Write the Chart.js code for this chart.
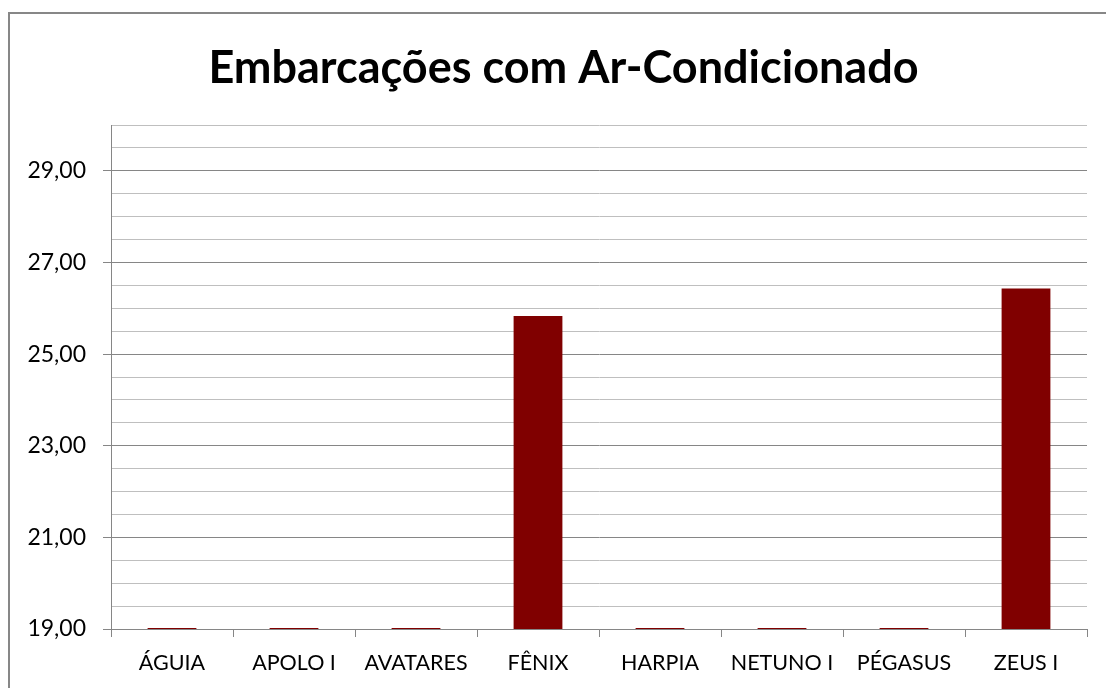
<!DOCTYPE html>
<html>
<head>
<meta charset="utf-8">
<script src="https://cdn.jsdelivr.net/npm/chart.js@4.4.0/dist/chart.umd.min.js"></script>
<style>
  html, body { margin: 0; padding: 0; background: #fff; overflow: hidden; }
  #frame { position: absolute; left: 8px; top: 12px; width: 1110px; height: 700px; border: 2px solid #878787; box-sizing: border-box; }
  #wrap { position: absolute; left: 0; top: 0; width: 1106px; height: 688px; }
</style>
</head>
<body>
<div id="frame"></div>
<div id="wrap"><canvas id="c" width="1106" height="688"></canvas></div>
<script>
const chartTitle = 'Embarcações com Ar-Condicionado';
const categories = ['ÁGUIA', 'APOLO I', 'AVATARES', 'FÊNIX', 'HARPIA', 'NETUNO I', 'PÉGASUS', 'ZEUS I'];
const values = [19.02, 19.02, 19.02, 25.83, 19.02, 19.02, 19.02, 26.43];
const yMin = 19, yMax = 30, yStep = 0.5, yLabelStep = 2;

const FONT = "Lato, 'Liberation Sans', sans-serif";
const isMajor = v => Math.abs(((v - yMin) / yLabelStep) - Math.round((v - yMin) / yLabelStep)) < 1e-6;

const shiftTitle = {
  id: 'shiftTitle',
  afterLayout(chart) {
    if (chart.titleBlock) { chart.titleBlock.left = 40; }
  }
};

new Chart(document.getElementById('c'), {
  type: 'bar',
  data: {
    labels: categories,
    datasets: [{
      data: values,
      backgroundColor: '#800000',
      borderWidth: 0,
      categoryPercentage: 1,
      barPercentage: 0.4
    }]
  },
  plugins: [shiftTitle],
  options: {
    responsive: false,
    animation: false,
    layout: { padding: { left: 0, right: 19, top: 0, bottom: 0 } },
    plugins: {
      legend: { display: false },
      tooltip: { enabled: false },
      title: {
        display: true,
        text: chartTitle,
        color: '#000',
        font: { family: FONT, size: 45, weight: 'bold', lineHeight: 1.2 },
        padding: { top: 41, bottom: 30 }
      }
    },
    scales: {
      y: {
        min: yMin, max: yMax,
        afterFit: s => { s.width = 111; },
        border: { display: true, color: '#868686', width: 1 },
        grid: {
          color: ctx => isMajor(ctx.tick.value) ? '#868686' : '#bfbfbf',
          tickColor: ctx => isMajor(ctx.tick.value) ? '#868686' : 'rgba(0,0,0,0)',
          tickLength: 8,
          lineWidth: 1
        },
        ticks: {
          stepSize: yStep,
          autoSkip: false,
          color: '#000',
          padding: 17,
          font: { family: FONT, size: 23 },
          callback: v => isMajor(v) ? v.toFixed(2).replace('.', ',') : ''
        }
      },
      x: {
        offset: true,
        afterFit: s => { s.height = 59; },
        border: { display: true, color: '#868686', width: 1 },
        grid: {
          offset: true,
          drawOnChartArea: false,
          color: '#868686',
          tickColor: '#868686',
          tickLength: 8
        },
        ticks: {
          color: '#000',
          padding: 13,
          maxRotation: 0,
          autoSkip: false,
          font: { family: FONT, size: 21.5 }
        }
      }
    }
  }
});
</script>
</body>
</html>
